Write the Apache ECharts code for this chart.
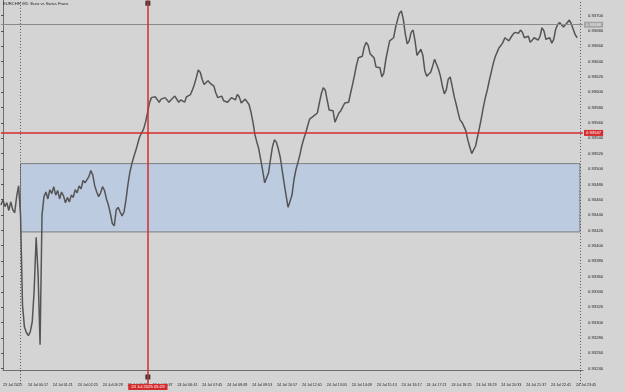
<!DOCTYPE html>
<html>
<head>
<meta charset="utf-8">
<script src="https://cdn.jsdelivr.net/npm/echarts@6/dist/echarts.min.js"></script>
<style>
html,body{margin:0;padding:0;background:#d4d4d4;}
#c{width:625px;height:392px;}
</style>
</head>
<body>
<div id="c"></div>
<script>
// ---- data ----
const chartTitle = 'EURCHF, M1: Euro vs Swiss Franc';
const barStep = 5;          // minutes between samples (from 23 Jul 23:13)
const labelStep = 64;       // minutes between time labels
const xLabels = ['23 Jul 2025','24 Jul 00:17','24 Jul 01:21','24 Jul 02:25','24 Jul 03:29','24 Jul 04:33',
  '24 Jul 05:37','24 Jul 06:41','24 Jul 07:45','24 Jul 08:49','24 Jul 09:53','24 Jul 10:57','24 Jul 12:01',
  '24 Jul 13:05','24 Jul 14:09','24 Jul 15:13','24 Jul 16:17','24 Jul 17:21','24 Jul 18:25','24 Jul 19:29',
  '24 Jul 20:33','24 Jul 21:37','24 Jul 22:41','24 Jul 23:45'];
const prices = [
0.93453,0.93460,0.93451,0.93456,0.93446,0.93457,0.93447,0.93443,0.93464,0.93478,
0.93440,0.93323,0.93294,0.93287,0.93283,0.93288,0.93301,0.93343,0.93411,0.93362,
0.93271,0.93440,0.93464,0.93470,0.93461,0.93473,0.93468,0.93477,0.93466,0.93472,
0.93461,0.93470,0.93465,0.93456,0.93463,0.93457,0.93466,0.93463,0.93473,0.93469,
0.93478,0.93474,0.93485,0.93482,
0.93480,0.93490,0.93498,0.93492,0.93478,0.93470,0.93464,0.93469,0.93477,0.93472,
0.93461,0.93453,0.93442,0.93429,0.93426,0.93447,0.93450,0.93444,0.93439,0.93444,
0.93460,0.93480,0.93496,0.93507,0.93516,0.93524,0.93533,0.93542,0.93547,0.93552,
0.93561,0.93573,0.93586,0.93593,0.93591,0.93594,0.93593,0.93587,0.93591,0.93591,
0.93593,0.93593,0.93587,0.93590,
0.93589,0.93595,0.93594,0.93587,0.93590,0.93589,0.93587,0.93594,0.93594,0.93597,
0.93603,0.93610,0.93619,0.93629,0.93626,0.93617,0.93610,0.93610,0.93615,0.93612,
0.93611,0.93608,0.93599,0.93593,0.93594,0.93595,0.93589,0.93589,0.93587,0.93586,
0.93593,0.93591,0.93590,0.93597,0.93594,0.93586,0.93586,0.93591,0.93590,0.93584,
0.93574,0.93561,0.93545,0.93535,
0.93526,0.93512,0.93498,0.93482,0.93481,0.93495,0.93513,0.93529,0.93538,0.93535,
0.93526,0.93515,0.93498,0.93481,0.93465,0.93450,0.93448,0.93466,0.93486,0.93499,
0.93508,0.93518,0.93530,0.93539,0.93547,0.93556,0.93565,0.93567,0.93569,0.93570,
0.93573,0.93586,0.93598,0.93606,0.93603,0.93590,0.93577,0.93578,0.93576,0.93561,
0.93567,0.93573,0.93576,
0.93576,0.93586,0.93585,0.93587,0.93599,0.93610,0.93622,0.93635,0.93645,0.93643,
0.93647,0.93659,0.93665,0.93661,0.93650,0.93648,0.93645,0.93633,0.93634,0.93632,
0.93620,0.93625,0.93642,0.93655,0.93667,0.93668,0.93671,0.93684,0.93694,0.93703,
0.93706,0.93695,0.93676,0.93663,0.93667,0.93678,0.93681,0.93667,0.93648,0.93647,
0.93656,0.93648,0.93628,0.93621,
0.93621,0.93626,0.93634,0.93643,0.93641,0.93630,0.93621,0.93608,0.93598,0.93603,
0.93617,0.93620,0.93608,0.93595,0.93585,0.93574,0.93564,0.93561,0.93560,0.93550,
0.93538,0.93529,0.93520,0.93520,0.93530,0.93542,0.93554,0.93567,0.93581,0.93593,
0.93603,0.93615,0.93626,0.93637,0.93646,0.93652,0.93658,0.93661,0.93665,0.93671,
0.93671,0.93667,0.93671,0.93675,
0.93678,0.93678,0.93677,0.93681,0.93678,0.93671,0.93672,0.93673,0.93665,0.93663,
0.93671,0.93673,0.93668,0.93673,0.93684,0.93680,0.93669,0.93669,0.93671,0.93664,
0.93669,0.93682,0.93688,0.93691,0.93691,0.93685,0.93684,0.93691,0.93694,0.93689,
0.93682,0.93675,0.93671
];
// axis ranges / ticks
const yMin = 0.93220, yMax = 0.93720, yStep = 0.00020;
const xMax = 1490;
// annotations
const redLevel = 0.93547, redLevelLabel = '0.93547';
const greyLevel = 0.93688, greyLevelLabel = '0.93688';
const zoneTop = 0.93507, zoneBottom = 0.93418;
const zoneStart = 50, zoneEnd = 1482;
const daySeparator = 50, shiftLine = 1482;
const cursorTime = 376, cursorLabel = '24 Jul 2025 05:29';
const cursorAnchors = [0.93716, 0.93229];

// ---- chart ----
const FONT = 'Liberation Sans';
const chart = echarts.init(document.getElementById('c'), null, {renderer: 'canvas'});
const series = prices.map((p, i) => [i * barStep, p]);

function levelLine(level, text, color, bg, fg, width) {
  return [
    {coord: [0, level], lineStyle: {color: color, width: width, type: 'solid'},
      label: {show: true, position: 'end', distance: 1, formatter: text,
        fontSize: 4.2, color: fg, backgroundColor: bg, padding: [1, 2], fontFamily: FONT}},
    {coord: [xMax, level]}
  ];
}

chart.setOption({
  backgroundColor: '#d4d4d4',
  animation: false,
  title: {text: chartTitle, left: 3, top: 2, padding: 0,
    textStyle: {fontSize: 4.2, fontWeight: 'normal', color: '#222', fontFamily: FONT}},
  grid: [
    {left: 1, right: 42, top: 0.15, height: 383.75},
    {left: 1, right: 42, top: 0, height: 370}
  ],
  xAxis: [
    {gridIndex: 0, type: 'value', min: 0, max: xMax, show: false},
    {gridIndex: 1, type: 'value', min: 0, max: xMax, interval: labelStep,
      axisLine: {show: true, lineStyle: {color: '#6e6e6e', width: 1}},
      axisTick: {show: false},
      splitLine: {show: false},
      axisLabel: {align: 'left', margin: 13, fontSize: 3.7, color: '#222', fontFamily: FONT,
        formatter: v => (v % labelStep === 0 ? (xLabels[v / labelStep] || '') : '')}}
  ],
  yAxis: [
    {gridIndex: 0, type: 'value', position: 'right', min: yMin, max: yMax, interval: yStep,
      axisLine: {show: false},
      axisTick: {show: true, length: 3, lineStyle: {color: '#555'}},
      splitLine: {show: false},
      axisLabel: {showMinLabel: false, showMaxLabel: false, margin: 5, fontSize: 4.2,
        color: '#222', fontFamily: FONT, formatter: v => v.toFixed(5)}},
    {gridIndex: 1, type: 'value', position: 'right', min: 0, max: 1,
      axisLine: {show: true, lineStyle: {color: '#6e6e6e', width: 1}},
      axisTick: {show: false}, axisLabel: {show: false}, splitLine: {show: false}}
  ],
  series: [
    {type: 'line', xAxisIndex: 0, yAxisIndex: 0, data: [], silent: true, z: 1,
      markArea: {silent: true,
        itemStyle: {color: '#bdcbe0', borderColor: '#7d7d7d', borderWidth: 1},
        data: [[{xAxis: zoneStart, yAxis: zoneTop}, {xAxis: zoneEnd, yAxis: zoneBottom}]]},
      markLine: {silent: true, symbol: 'none', animation: false,
        lineStyle: {color: '#555', type: [1, 2], width: 1},
        label: {show: false},
        data: [{xAxis: daySeparator}, {xAxis: shiftLine}]}},
    {type: 'line', xAxisIndex: 0, yAxisIndex: 0, data: series, showSymbol: false, z: 2,
      lineStyle: {color: '#555', width: 1.5}},
    {type: 'line', xAxisIndex: 0, yAxisIndex: 0, data: [], silent: true, z: 3,
      markLine: {silent: true, symbol: 'none', animation: false,
        data: [
          levelLine(greyLevel, greyLevelLabel, '#8a8a8a', '#a4a4a4', '#f4f4f4', 1),
          levelLine(redLevel, redLevelLabel, '#d42c2c', '#d42c2c', '#ffffff', 1.5),
          {xAxis: cursorTime, lineStyle: {color: '#d42c2c', width: 1.5, type: 'solid'},
            label: {show: true, position: 'start', distance: 0, formatter: cursorLabel,
              fontSize: 4.2, color: '#fff', backgroundColor: '#d42c2c', padding: [1, 3], fontFamily: FONT}}
        ]}},
    {type: 'scatter', xAxisIndex: 0, yAxisIndex: 0, symbol: 'rect', symbolSize: 5, silent: true, z: 4,
      itemStyle: {color: '#111'},
      data: cursorAnchors.map(v => [cursorTime, v])}
  ]
});
</script>
</body>
</html>
